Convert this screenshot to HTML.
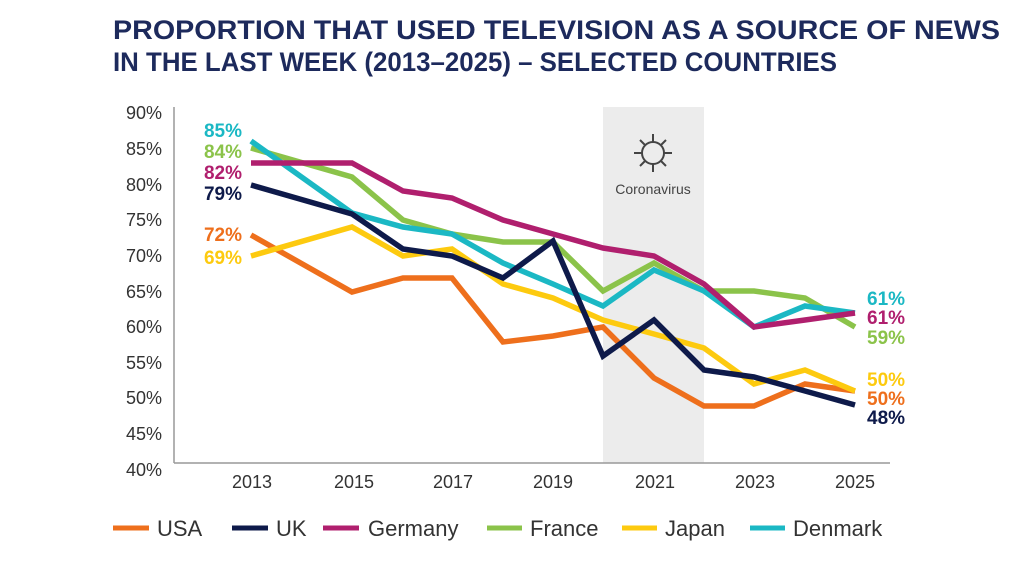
<!DOCTYPE html>
<html><head><meta charset="utf-8"><style>
body{margin:0;background:#fff;width:1024px;height:558px;overflow:hidden;font-family:"Liberation Sans",sans-serif}
</style></head><body>
<svg width="1024" height="558" xmlns="http://www.w3.org/2000/svg" font-family="Liberation Sans, sans-serif">
<text x="113" y="39" font-size="27" font-weight="bold" fill="#1d2a5c" textLength="887" lengthAdjust="spacingAndGlyphs">PROPORTION THAT USED TELEVISION AS A SOURCE OF NEWS</text>
<text x="113" y="71" font-size="27" font-weight="bold" fill="#1d2a5c" textLength="724" lengthAdjust="spacingAndGlyphs">IN THE LAST WEEK (2013–2025) – SELECTED COUNTRIES</text>
<rect x="603" y="107" width="101" height="356" fill="#ececec"/>
<g stroke="#444" stroke-width="2" fill="none"><circle cx="653" cy="153" r="11"/>
<path d="M653 134v8M653 164v8M634 153h8M664 153h8M640 140l5 5M666 140l-5 5M640 166l5-5M666 166l-5-5"/></g>
<text x="653" y="194" font-size="14" text-anchor="middle" fill="#444">Coronavirus</text>
<line x1="174" y1="107" x2="174" y2="463" stroke="#999" stroke-width="1.5"/>
<line x1="174" y1="463" x2="890" y2="463" stroke="#999" stroke-width="1.5"/>
<g font-size="18" fill="#333" text-anchor="end">
<text x="162" y="119">90%</text><text x="162" y="155">85%</text><text x="162" y="191">80%</text><text x="162" y="226">75%</text><text x="162" y="262">70%</text><text x="162" y="298">65%</text><text x="162" y="333">60%</text><text x="162" y="369">55%</text><text x="162" y="404">50%</text><text x="162" y="440">45%</text><text x="162" y="476">40%</text></g>
<g font-size="18" fill="#333" text-anchor="middle">
<text x="252" y="488">2013</text><text x="354" y="488">2015</text><text x="453" y="488">2017</text><text x="553" y="488">2019</text><text x="655" y="488">2021</text><text x="755" y="488">2023</text><text x="855" y="488">2025</text></g>
<g fill="none" stroke-width="5.5" stroke-linejoin="miter">
<polyline stroke="#ee6f1c" points="251,235 352,292 403,278 452,278 503,342 553,336 603,327 654,378 704,406 754,406 805,384 855,391"/>
<polyline stroke="#fdca0f" points="251,256 352,227 403,256 452,249 503,284 553,298 603,320 654,334 704,348 754,384 805,370 855,391"/>
<polyline stroke="#8bc34a" points="251,148 352,177 403,220 452,234 503,242 553,242 603,291 654,263 704,291 754,291 805,298 855,327"/>
<polyline stroke="#1bb8c4" points="251,141 352,213 403,227 452,234 503,263 553,284 603,306 654,270 704,291 754,327 805,306 855,313"/>
<polyline stroke="#b01f6e" points="251,163 352,163 403,191 452,198 503,220 553,234 603,248 654,256 704,284 754,327 805,320 855,313"/>
<polyline stroke="#0e1a4a" points="251,185 352,214 403,249 452,256 503,278 553,241 603,356 654,320 704,370 754,377 805,391 855,405"/>
</g>
<g font-size="19" font-weight="bold" text-anchor="end">
<text x="242" y="137" fill="#1bb8c4">85%</text><text x="242" y="158" fill="#8bc34a">84%</text><text x="242" y="179" fill="#b01f6e">82%</text><text x="242" y="200" fill="#0e1a4a">79%</text>
<text x="242" y="241" fill="#ee6f1c">72%</text><text x="242" y="264" fill="#fdca0f">69%</text></g>
<g font-size="19" font-weight="bold">
<text x="867" y="305" fill="#1bb8c4">61%</text><text x="867" y="324" fill="#b01f6e">61%</text><text x="867" y="344" fill="#8bc34a">59%</text>
<text x="867" y="386" fill="#fdca0f">50%</text><text x="867" y="405" fill="#ee6f1c">50%</text><text x="867" y="424" fill="#0e1a4a">48%</text></g>
<g stroke-width="5">
<line x1="113" y1="528" x2="149" y2="528" stroke="#ee6f1c"/>
<line x1="232" y1="528" x2="268" y2="528" stroke="#0e1a4a"/>
<line x1="323" y1="528" x2="359" y2="528" stroke="#b01f6e"/>
<line x1="487" y1="528" x2="522" y2="528" stroke="#8bc34a"/>
<line x1="622" y1="528" x2="657" y2="528" stroke="#fdca0f"/>
<line x1="750" y1="528" x2="785" y2="528" stroke="#1bb8c4"/>
</g>
<g font-size="22" fill="#333">
<text x="157" y="536">USA</text><text x="276" y="536">UK</text><text x="368" y="536">Germany</text><text x="530" y="536">France</text><text x="665" y="536">Japan</text><text x="793" y="536">Denmark</text></g>
</svg>
</body></html>
